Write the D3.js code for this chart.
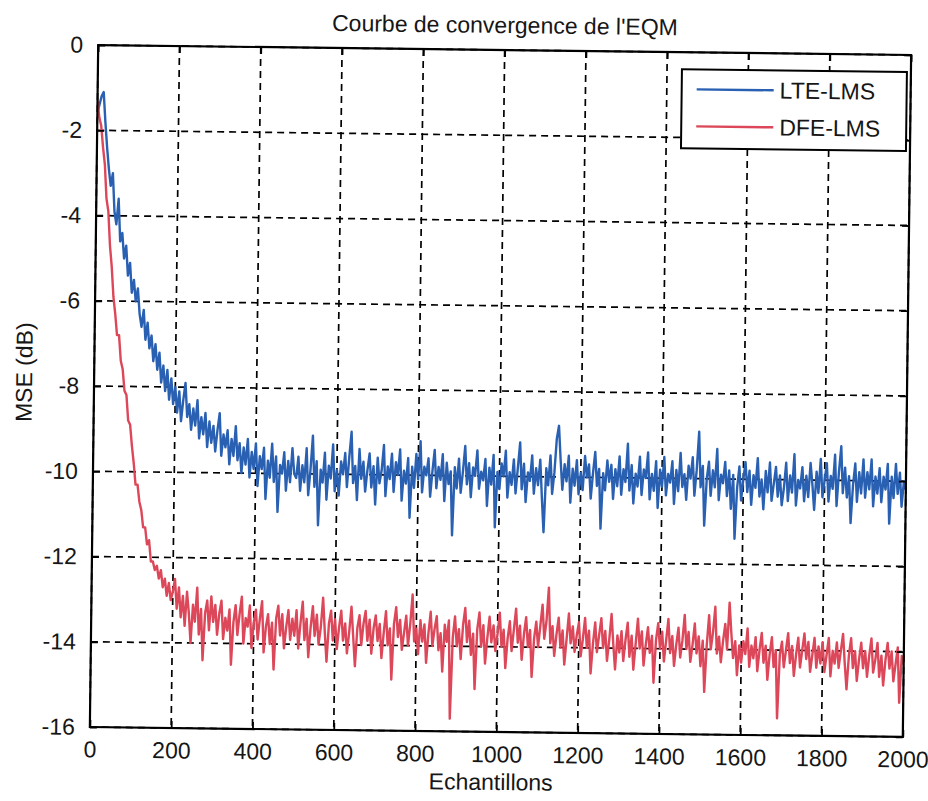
<!DOCTYPE html>
<html>
<head>
<meta charset="utf-8">
<script src="https://cdn.jsdelivr.net/npm/d3@7"></script>
<style>
  body { margin: 0; background: #fff; }
  text { font-family: "Liberation Sans", Arial, sans-serif; fill: #161616; }
</style>
</head>
<body>
<div id="chart"></div>
<script>
// chart text
var chartTitle = "Courbe de convergence de l'EQM";
var xTitle = "Echantillons";
var yTitle = "MSE (dB)";
var seriesNames = ["LTE-LMS", "DFE-LMS"];

// ticks
var xTicks = [0, 200, 400, 600, 800, 1000, 1200, 1400, 1600, 1800, 2000];
var yTicks = [0, -2, -4, -6, -8, -10, -12, -14, -16];

// sample index of every value below (one reading every 5 samples)
var samples = d3.range(0, 2001, 5);

// LTE-LMS
var lteMSE = [
  -1.6,-1.4,-1.2,-1.1,-1.8,-2.4,-2.9,-3.3,-3.0,-3.9,-4.2,-3.6,-4.6,-4.4,-5.0,-4.7,-5.4,-5.1,-5.8,-5.5,
  -6.0,-5.7,-6.3,-6.6,-6.2,-6.9,-6.5,-7.1,-6.8,-7.4,-7.0,-7.6,-7.2,-7.9,-7.5,-8.1,-7.6,-8.3,-7.8,-8.4,
  -8.0,-8.6,-8.1,-8.8,-8.3,-7.9,-8.7,-8.4,-9.0,-8.5,-8.9,-8.3,-9.2,-8.7,-9.1,-8.6,-9.4,-8.8,-9.3,-8.9,
  -9.5,-9.0,-8.6,-9.6,-9.1,-9.4,-9.0,-9.8,-9.2,-9.6,-8.9,-9.7,-9.3,-10.0,-9.4,-9.8,-9.2,-10.1,-9.5,-9.9,
  -9.3,-10.3,-9.6,-9.9,-9.4,-10.6,-9.7,-10.1,-9.3,-10.2,-9.6,-10.9,-9.8,-10.0,-9.5,-10.4,-9.7,-10.2,-9.4,-10.0,
  -10.1,-9.6,-10.4,-9.8,-10.2,-9.4,-10.5,-9.9,-9.1,-10.3,-9.7,-11.2,-9.9,-10.2,-9.5,-10.6,-9.8,-10.1,-9.3,-10.4,
  -9.9,-10.5,-9.7,-10.0,-9.5,-10.3,-9.6,-9.0,-10.2,-9.8,-10.6,-9.4,-10.1,-9.7,-10.4,-9.9,-9.5,-10.3,-9.8,-10.7,
  -9.6,-10.2,-9.9,-9.3,-10.5,-9.8,-10.1,-9.5,-10.4,-9.7,-10.0,-9.4,-10.6,-9.9,-10.2,-9.6,-11.0,-9.8,-10.3,-9.5,
  -10.1,-9.2,-10.4,-9.8,-10.0,-9.6,-10.5,-9.9,-9.4,-10.3,-9.8,-10.1,-9.5,-10.6,-9.7,-10.2,-9.9,-11.4,-9.8,-10.3,
  -9.6,-10.4,-9.9,-9.3,-10.2,-9.7,-10.5,-9.8,-10.0,-9.4,-10.3,-9.9,-10.1,-9.6,-10.7,-9.8,-10.2,-9.5,-11.2,-9.9,
  -10.3,-9.7,-10.0,-9.4,-10.5,-9.9,-10.2,-9.6,-10.4,-9.8,-9.2,-10.3,-9.7,-10.6,-9.9,-10.1,-9.5,-10.4,-9.8,-10.2,
  -9.6,-10.5,-11.3,-9.8,-10.2,-9.5,-10.4,-9.9,-9.1,-8.8,-9.6,-10.3,-9.7,-10.1,-9.5,-10.6,-9.8,-10.2,-9.6,-10.4,
  -9.9,-10.3,-9.5,-10.0,-9.7,-10.5,-9.9,-9.4,-10.2,-9.8,-11.2,-9.9,-10.3,-9.6,-10.1,-9.7,-10.5,-9.8,-10.2,-9.5,
  -10.4,-9.8,-10.1,-9.2,-10.3,-9.7,-10.6,-9.9,-10.2,-9.5,-10.4,-9.8,-10.0,-9.4,-10.5,-9.9,-10.3,-9.6,-10.7,-9.8,
  -10.2,-9.5,-10.4,-9.9,-10.1,-9.6,-10.6,-9.8,-10.3,-9.4,-10.2,-9.9,-10.5,-9.7,-10.0,-9.5,-10.4,-9.8,-8.9,-10.2,
  -9.7,-11.1,-10.0,-9.6,-10.4,-9.8,-10.2,-9.3,-10.5,-9.9,-10.1,-9.6,-10.4,-9.8,-10.7,-9.9,-11.4,-10.2,-9.7,-10.5,
  -10.0,-9.6,-10.3,-9.8,-10.6,-9.9,-10.2,-9.5,-10.4,-10.0,-10.7,-9.8,-10.3,-9.6,-10.5,-10.1,-9.7,-10.4,-9.9,-10.6,
  -10.2,-9.6,-10.5,-9.9,-10.3,-9.4,-10.6,-10.0,-10.2,-9.7,-10.5,-9.9,-10.4,-9.6,-10.1,-10.7,-9.8,-10.3,-9.5,-10.4,
  -10.0,-9.6,-10.5,-9.9,-10.2,-9.4,-10.6,-9.8,-9.2,-10.3,-9.7,-10.4,-9.9,-11.0,-10.1,-9.6,-10.5,-9.8,-10.3,-9.5,
  -10.4,-9.8,-10.2,-9.5,-10.6,-9.9,-10.3,-9.7,-10.5,-9.9,-10.2,-9.6,-11.0,-9.9,-10.4,-9.6,-10.3,-9.8,-10.6,-10.0,
  -10.2
];

// DFE-LMS
var dfeMSE = [
  -1.3,-1.7,-1.9,-2.4,-2.8,-3.6,-3.9,-4.7,-5.2,-5.9,-6.3,-6.8,-6.8,-7.4,-7.6,-8.1,-8.2,-8.8,-8.9,-9.4,
  -9.8,-10.3,-10.3,-10.7,-10.9,-11.3,-11.3,-11.7,-11.6,-12.1,-12.1,-12.3,-12.2,-12.5,-12.3,-12.7,-12.5,-12.9,-12.6,-13.0,
  -12.8,-12.5,-13.2,-12.7,-13.4,-12.9,-13.6,-12.8,-13.3,-14.0,-13.1,-13.5,-12.7,-13.8,-13.2,-14.4,-13.3,-13.0,-13.7,-12.9,
  -13.5,-13.1,-13.8,-13.3,-13.0,-13.9,-13.4,-13.7,-13.2,-14.5,-13.5,-13.1,-13.8,-13.3,-12.9,-14.0,-13.4,-13.6,-13.1,-14.1,
  -13.5,-13.2,-13.9,-13.4,-13.0,-14.2,-13.6,-13.3,-14.0,-13.5,-14.6,-13.4,-13.1,-13.8,-13.3,-14.1,-13.6,-13.2,-13.9,-13.4,
  -13.8,-13.2,-14.1,-13.5,-13.0,-13.9,-13.4,-14.3,-13.6,-13.1,-13.8,-13.3,-14.0,-13.6,-12.9,-13.7,-14.4,-13.5,-13.2,-13.9,
  -13.4,-14.1,-13.6,-13.2,-13.9,-13.5,-14.2,-13.7,-13.1,-13.8,-14.5,-13.6,-13.3,-14.0,-13.5,-13.2,-13.9,-13.4,-14.2,-13.6,
  -13.3,-13.9,-13.5,-14.3,-13.7,-13.2,-14.0,-13.6,-14.8,-13.5,-13.1,-13.8,-13.4,-14.1,-13.7,-13.3,-14.0,-13.5,-12.8,-13.9,
  -13.6,-14.2,-13.4,-13.9,-13.5,-14.4,-13.7,-13.2,-14.0,-13.6,-13.3,-14.1,-13.7,-14.6,-13.5,-13.9,-13.4,-15.7,-13.8,-13.3,
  -14.0,-13.6,-14.3,-13.5,-13.1,-13.9,-13.4,-14.2,-13.7,-15.0,-13.6,-13.2,-14.0,-13.5,-14.4,-13.8,-13.3,-13.9,-13.5,-14.1,
  -13.7,-13.2,-14.0,-13.6,-14.5,-13.8,-13.4,-14.1,-13.6,-13.1,-13.9,-13.5,-14.3,-13.7,-13.3,-14.0,-13.6,-14.7,-13.8,-13.4,
  -14.0,-13.5,-13.0,-13.8,-13.4,-12.6,-13.9,-13.5,-14.2,-13.7,-13.3,-14.0,-13.6,-14.4,-13.8,-13.2,-13.9,-13.5,-14.1,-13.7,
  -13.4,-14.2,-13.8,-13.3,-14.0,-13.6,-14.6,-13.9,-13.4,-14.1,-13.7,-13.3,-14.0,-13.6,-14.3,-13.8,-13.2,-13.9,-14.5,-13.7,
  -14.1,-13.6,-14.3,-13.8,-13.4,-14.2,-13.7,-14.5,-13.9,-13.3,-14.0,-13.6,-14.4,-13.9,-13.5,-14.1,-13.7,-14.8,-13.8,-13.4,
  -14.0,-13.6,-14.3,-13.8,-13.3,-14.1,-13.7,-14.4,-13.9,-13.5,-14.2,-13.8,-13.2,-14.0,-13.6,-14.3,-13.9,-13.4,-14.1,-13.7,
  -14.4,-13.8,-15.0,-13.9,-13.2,-14.0,-13.6,-13.0,-14.1,-13.7,-14.3,-13.8,-13.4,-14.0,-12.9,-13.6,-14.2,-13.8,-14.6,-13.9,
  -14.3,-13.8,-14.1,-13.5,-14.4,-13.9,-14.2,-13.7,-14.5,-14.0,-13.6,-14.3,-13.9,-14.7,-14.1,-13.7,-14.4,-14.0,-15.6,-14.1,
  -13.8,-14.4,-14.0,-13.6,-14.3,-13.9,-14.6,-14.1,-13.7,-14.4,-14.0,-13.6,-14.2,-13.8,-14.5,-14.1,-13.7,-14.4,-13.9,-14.3,
  -13.8,-14.5,-14.1,-13.7,-14.6,-14.0,-14.3,-13.8,-14.4,-14.0,-13.6,-14.3,-14.9,-14.1,-13.7,-14.4,-14.0,-14.7,-14.2,-13.8,
  -14.4,-14.0,-14.6,-14.1,-13.7,-14.5,-14.2,-13.8,-14.6,-14.1,-14.8,-14.2,-13.8,-14.4,-14.0,-14.7,-14.3,-13.9,-15.2,-14.1,
  -14.3
];

var seriesColors = ["#2a60b2", "#dc4759"];

var svgWidth = 928;
var svgHeight = 801;

var margin = {
  top: 50,
  right: 21,
  bottom: 69,
  left: 94
};

var width = svgWidth - margin.left - margin.right;
var height = svgHeight - margin.top - margin.bottom;

var svg = d3.select("#chart")
  .append("svg")
  .attr("width", svgWidth)
  .attr("height", svgHeight);

// the scanned page is a little tilted
var page = svg.append("g")
  .attr("transform", `rotate(0.7, ${margin.left + width / 2}, ${margin.top + height / 2})`);

var chartGroup = page.append("g")
  .attr("transform", `translate(${margin.left}, ${margin.top})`);

var x = d3.scaleLinear().domain([0, 2000]).range([0, width]);
var y = d3.scaleLinear().domain([-16, 0]).range([height, 0]);

// grid
chartGroup.append("g")
  .selectAll("line")
  .data(xTicks)
  .enter()
  .append("line")
  .attr("x1", d => x(d))
  .attr("x2", d => x(d))
  .attr("y1", 0)
  .attr("y2", height)
  .attr("stroke", "#000")
  .attr("stroke-width", 1.7)
  .attr("stroke-dasharray", "7,5");

chartGroup.append("g")
  .selectAll("line")
  .data(yTicks)
  .enter()
  .append("line")
  .attr("x1", 0)
  .attr("x2", width)
  .attr("y1", d => y(d))
  .attr("y2", d => y(d))
  .attr("stroke", "#000")
  .attr("stroke-width", 1.7)
  .attr("stroke-dasharray", "7,5");

// curves
chartGroup.append("clipPath")
  .attr("id", "plotClip")
  .append("rect")
  .attr("width", width)
  .attr("height", height);

var line = d3.line()
  .x(d => x(d[0]))
  .y(d => y(d[1]));

var allSeries = [d3.zip(samples, lteMSE), d3.zip(samples, dfeMSE)];

chartGroup.append("g")
  .attr("clip-path", "url(#plotClip)")
  .selectAll("path")
  .data(allSeries)
  .enter()
  .append("path")
  .attr("d", d => line(d))
  .attr("fill", "none")
  .attr("stroke", (d, i) => seriesColors[i])
  .attr("stroke-width", 2.4)
  .attr("stroke-linejoin", "round");

// axes, ticks point inwards like matlab
var fmt = d => String(d);

chartGroup.append("g")
  .attr("transform", `translate(0, ${height})`)
  .call(d3.axisBottom(x).tickValues(xTicks).tickFormat(fmt).tickSize(-7).tickPadding(14));

chartGroup.append("g")
  .call(d3.axisLeft(y).tickValues(yTicks).tickFormat(fmt).tickSize(-7).tickPadding(15));

chartGroup.append("g")
  .call(d3.axisTop(x).tickValues(xTicks).tickFormat("").tickSize(-7));

chartGroup.append("g")
  .attr("transform", `translate(${width}, 0)`)
  .call(d3.axisRight(y).tickValues(yTicks).tickFormat("").tickSize(-7));

chartGroup.selectAll(".domain").remove();
chartGroup.selectAll(".tick line")
  .attr("stroke", "#000")
  .attr("stroke-width", 1.8);
chartGroup.selectAll(".tick text")
  .style("font-size", "23px")
  .attr("fill", "#111");

chartGroup.append("rect")
  .attr("width", width)
  .attr("height", height)
  .attr("fill", "none")
  .attr("stroke", "#000")
  .attr("stroke-width", 2.2);

// titles
chartGroup.append("text")
  .attr("x", width / 2)
  .attr("y", -17)
  .attr("text-anchor", "middle")
  .style("font-size", "23px")
  .text(chartTitle);

chartGroup.append("text")
  .attr("x", width / 2 - 5)
  .attr("y", height + 58)
  .attr("text-anchor", "middle")
  .style("font-size", "23px")
  .text(xTitle);

chartGroup.append("text")
  .attr("transform", `translate(-62, ${height / 2 - 13}) rotate(-90)`)
  .attr("text-anchor", "middle")
  .style("font-size", "23px")
  .text(yTitle);

// legend
var legendW = 225;
var legendH = 79;
var legend = chartGroup.append("g")
  .attr("transform", `translate(${width - legendW - 4}, 17)`);

legend.append("rect")
  .attr("width", legendW)
  .attr("height", legendH)
  .attr("fill", "#fff")
  .attr("stroke", "#000")
  .attr("stroke-width", 2);

var legendItems = legend.selectAll(".item")
  .data(seriesNames)
  .enter()
  .append("g")
  .attr("class", "item")
  .attr("transform", (d, i) => `translate(0, ${20 + i * 37})`);

legendItems.append("line")
  .attr("x1", 15)
  .attr("x2", 92)
  .attr("stroke", (d, i) => seriesColors[i])
  .attr("stroke-width", 2.4);

legendItems.append("text")
  .attr("x", 98)
  .attr("y", 8)
  .style("font-size", "23px")
  .text(d => d);
</script>
</body>
</html>
